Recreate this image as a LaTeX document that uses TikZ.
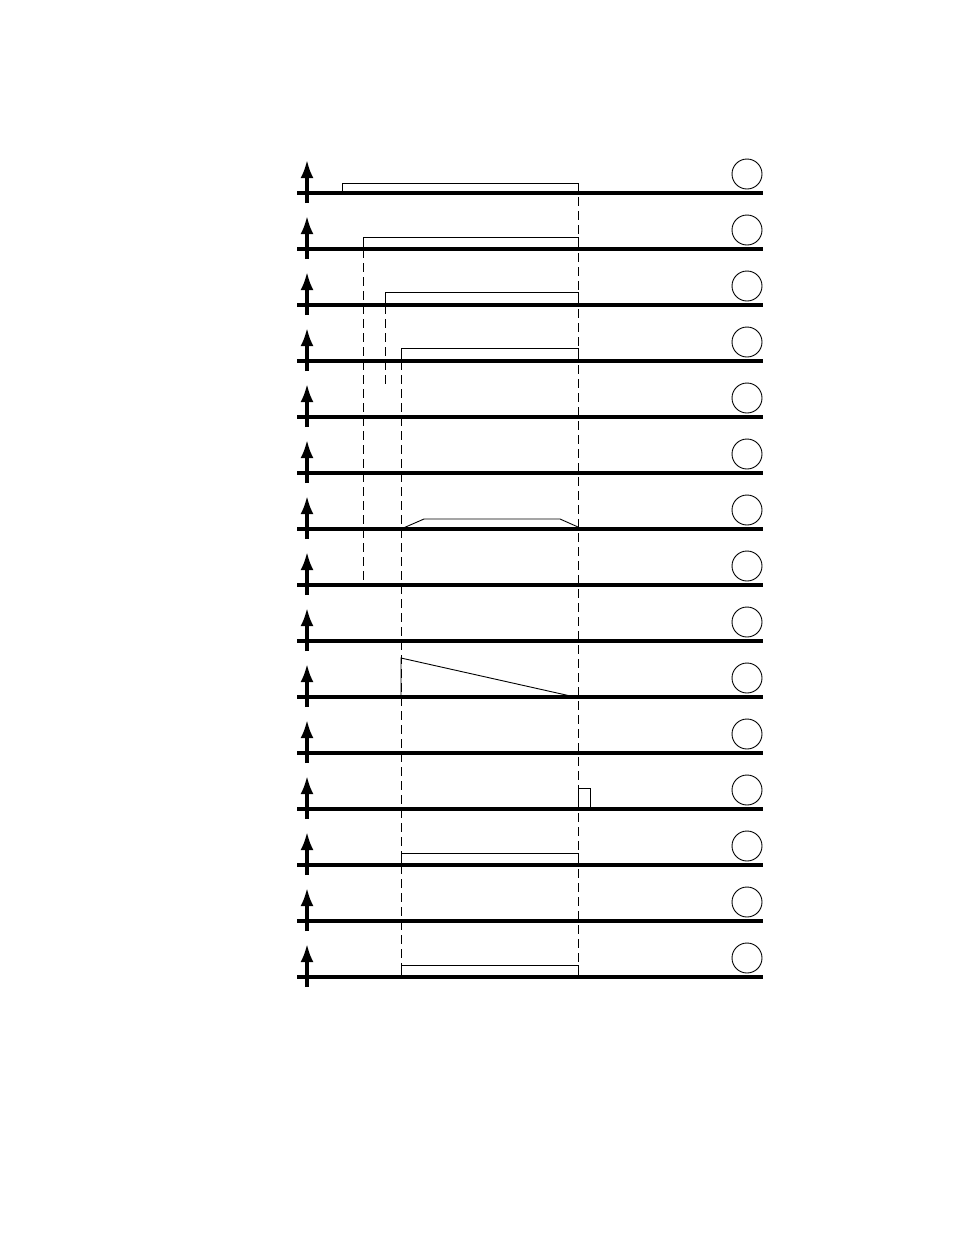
\documentclass[tikz,border=0pt]{standalone}
\usepackage{tikz}
\usetikzlibrary{arrows.meta, positioning, calc}
\tikzstyle{axis} = [draw, line width=3.2pt]
\tikzstyle{axisarrow} = [draw, line width=3.2pt, -{Latex[length=18pt, width=13pt]}]
\tikzstyle{marker} = [circle, draw, line width=0.9pt, minimum size=30pt, inner sep=0pt]
\tikzstyle{signal} = [draw, line width=0.9pt]
\tikzstyle{guide} = [draw, line width=0.9pt, dash pattern=on 9pt off 5pt]

\begin{document}
\begin{tikzpicture}[
    x=1pt,
    y=-1pt
]
    \useasboundingbox (0,0) rectangle (954,1235);

    % time lines
    \coordinate (tOne) at (342,0);
    \coordinate (tTwo) at (363,0);
    \coordinate (tThree) at (385,0);
    \coordinate (tFour) at (401,0);
    \coordinate (tEnd) at (578,0);

    % fifteen axes
    \foreach \i in {1,...,15} {
        \pgfmathsetmacro{\yy}{193+56*(\i-1)}
        \coordinate (base\i) at (307,\yy);
        \path[axis] (297,\yy) -- (763,\yy);
        \path[axisarrow] (307,\yy+10) -- (307,\yy-33);
        \node[marker] (mark\i) at (747,\yy-19) {};
    }

    % signals
    \path[signal] (tOne |- base1) -- ++(0,-10) -| (tEnd |- base1);
    \path[signal] (tTwo |- base2) -- ++(0,-12) -| (tEnd |- base2);
    \path[signal] (tThree |- base3) -- ++(0,-13) -| (tEnd |- base3);
    \path[signal] (tFour |- base4) -- ++(0,-13) -| (tEnd |- base4);

    \path[signal] (tFour |- base7) -- ++(23,-10) -- ++(136,0) -- ($(tEnd |- base7)+(0,-2)$);

    \path[signal] (tFour |- base10) -- ++(0,-39) -- ($(tEnd |- base10)+(-3,0)$);

    \path[signal] (tEnd |- base12) -- ++(0,-21) -- ++(12,0) -- ++(0,21);

    \path[signal] (tFour |- base13) -- ++(0,-12) -| (tEnd |- base13);
    \path[signal] (tFour |- base15) -- ++(0,-12) -| (tEnd |- base15);

    % dashed guides
    \path[guide] (tTwo |- base2) -- (tTwo |- base8);
    \path[guide] (tThree |- base3) -- ++(0,80);
    \path[guide] (tFour |- base4) -- ($(tFour |- base15)+(0,-12)$);
    \path[guide] ($(tEnd |- base1)+(0,-10)$) -- ($(tEnd |- base15)+(0,-12)$);
\end{tikzpicture}
\end{document}
